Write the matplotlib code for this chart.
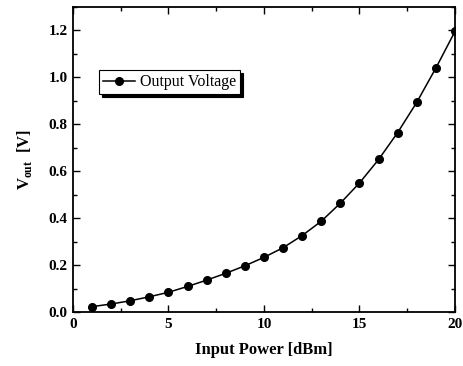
import numpy as np
import matplotlib.pyplot as plt
from matplotlib.ticker import MultipleLocator

plt.rcParams['font.family'] = ['Liberation Serif', 'DejaVu Serif']
plt.rcParams['mathtext.fontset'] = 'custom'
plt.rcParams['mathtext.rm'] = 'Liberation Serif:bold'
plt.rcParams['mathtext.bf'] = 'Liberation Serif:bold'

power = list(range(1, 21))
vout = [0.023, 0.034, 0.048, 0.065, 0.084, 0.109, 0.136, 0.165, 0.197, 0.233,
        0.274, 0.326, 0.387, 0.464, 0.550, 0.650, 0.765, 0.894, 1.040, 1.196]

fig = plt.figure(figsize=(4.64, 3.66), dpi=100)
ax = fig.add_axes([73/464, 1 - 312/366, (455-73)/464, (312-7)/366])

ax.plot(power, vout, '-o', color='black', lw=1.1, ms=5.5, label='Output Voltage')
ax.set_xlim(0, 20)
ax.set_ylim(0, 1.3)
ax.xaxis.set_major_locator(MultipleLocator(5))
ax.xaxis.set_minor_locator(MultipleLocator(2.5))
ax.yaxis.set_minor_locator(MultipleLocator(0.1))
ax.set_yticks(np.arange(0, 1.21, 0.2))
ax.set_yticklabels(['%.1f' % v for v in np.arange(0, 1.21, 0.2)])
ax.tick_params(which='both', direction='in', top=True, right=True, width=1)
ax.tick_params(which='major', length=5, labelsize=11, pad=4)
ax.tick_params(which='minor', length=3)
for lab in ax.get_xticklabels() + ax.get_yticklabels():
    lab.set_fontweight('bold')
for s in ax.spines.values():
    s.set_linewidth(1.3)

ax.set_xlabel('Input Power [dBm]', fontsize=12, fontweight='bold', labelpad=8)
ax.set_ylabel(r'V$_{\mathbf{out}}$  [V]', fontsize=12, fontweight='bold', labelpad=10)

leg = ax.legend(loc='upper left', bbox_to_anchor=(0.068, 0.793), borderaxespad=0,
                fontsize=11.5, fancybox=False,
                shadow={'color': 'black', 'alpha': 1},
                framealpha=1, edgecolor='black',
                handlelength=2.0, borderpad=0.25, handletextpad=0.3)
leg.get_frame().set_linewidth(0.8)

fig.savefig('out.png', dpi=100)
